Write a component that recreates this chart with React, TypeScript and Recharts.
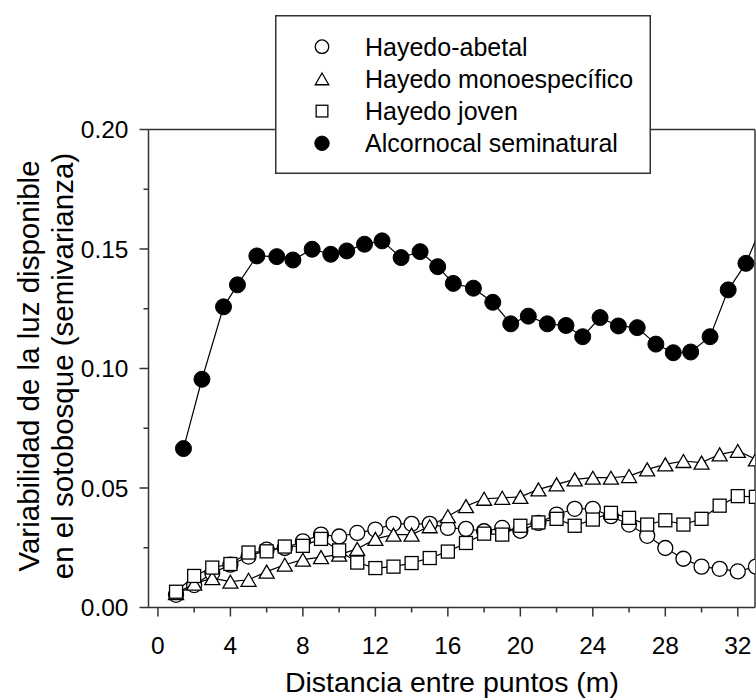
import { ComposedChart, Line, XAxis, YAxis, ReferenceLine, Legend } from 'recharts'

// distance lags (m) for the three beech stands
const DIST = [1, 2, 3, 4, 5, 6, 7, 8, 9, 10, 11, 12, 13, 14, 15, 16, 17, 18, 19, 20, 21, 22, 23, 24, 25, 26, 27, 28, 29, 30, 31, 32, 33]

const HAYEDO_ABETAL = [0.0053, 0.0094, 0.0144, 0.0179, 0.0213, 0.0242, 0.0249, 0.0277, 0.0305, 0.0297, 0.0312, 0.0326, 0.0350, 0.0350, 0.0350, 0.0333, 0.0329, 0.0319, 0.0333, 0.0321, 0.0354, 0.0389, 0.0413, 0.0413, 0.0382, 0.0347, 0.0300, 0.0249, 0.0204, 0.0171, 0.0162, 0.0151, 0.0171]
const HAYEDO_MONO = [0.0060, 0.0100, 0.0123, 0.0108, 0.0116, 0.0150, 0.0179, 0.0200, 0.0211, 0.0221, 0.0245, 0.0287, 0.0305, 0.0305, 0.0340, 0.0382, 0.0424, 0.0455, 0.0459, 0.0463, 0.0494, 0.0515, 0.0536, 0.0543, 0.0543, 0.0550, 0.0578, 0.0599, 0.0613, 0.0606, 0.0641, 0.0655, 0.0620]
const HAYEDO_JOVEN = [0.0066, 0.0132, 0.0167, 0.0182, 0.0230, 0.0235, 0.0255, 0.0258, 0.0287, 0.0239, 0.0188, 0.0165, 0.0171, 0.0186, 0.0207, 0.0234, 0.0270, 0.0309, 0.0305, 0.0342, 0.0356, 0.0371, 0.0342, 0.0368, 0.0396, 0.0375, 0.0347, 0.0365, 0.0347, 0.0371, 0.0426, 0.0466, 0.0463]

// cork oak stand has its own (non-integer) lags
const ALCORNOCAL_X = [1.41, 2.43, 3.62, 4.39, 5.46, 6.56, 7.45, 8.51, 9.54, 10.42, 11.40, 12.37, 13.42, 14.47, 15.44, 16.30, 17.41, 18.48, 19.47, 20.44, 21.49, 22.52, 23.44, 24.40, 25.41, 26.45, 27.48, 28.44, 29.40, 30.47, 31.47, 32.45, 33.45]
const ALCORNOCAL_Y = [0.0665, 0.0955, 0.1258, 0.1350, 0.1471, 0.1468, 0.1454, 0.1499, 0.1478, 0.1492, 0.1520, 0.1534, 0.1464, 0.1489, 0.1426, 0.1356, 0.1336, 0.1277, 0.1187, 0.1219, 0.1187, 0.1180, 0.1133, 0.1213, 0.1178, 0.1171, 0.1102, 0.1066, 0.1069, 0.1133, 0.1329, 0.1440, 0.1620]

const X_TICKS = [0, 2, 4, 6, 8, 10, 12, 14, 16, 18, 20, 22, 24, 26, 28, 30, 32]
const Y_TICKS = [0, 0.025, 0.05, 0.075, 0.1, 0.125, 0.15, 0.175, 0.2]

const SERIES_NAMES = ['Hayedo-abetal', 'Hayedo monoespecífico', 'Hayedo joven', 'Alcornocal seminatural']

const FONT = '"Liberation Sans", Arial, sans-serif'
const AXIS_COLOR = '#333'
const X_DOMAIN: [number, number] = [-0.52, 32.95]

const zip = (xs: number[], ys: number[]) => xs.map((x, i) => ({ x, y: ys[i] }))

type Shape = 'circle' | 'triangle' | 'square' | 'dot'

function Marker({ cx, cy, shape, s = 1 }: { cx: number; cy: number; shape: Shape; s?: number }) {
  const common = { stroke: '#000', strokeWidth: 1.3, fill: '#fff' }
  if (shape === 'circle') return <circle cx={cx} cy={cy} r={7.5 * s} {...common} />
  if (shape === 'dot') return <circle cx={cx} cy={cy} r={8 * s} fill="#000" stroke="#000" />
  if (shape === 'square') {
    const h = 6.5 * s
    return <rect x={cx - h} y={cy - h} width={2 * h} height={2 * h} {...common} />
  }
  const w = 7.5 * s
  const h = 6.5 * s
  return <polygon points={`${cx},${cy - h} ${cx - w},${cy + h} ${cx + w},${cy + h}`} {...common} />
}

const dotFor = (shape: Shape) => (p: any) => (
  <Marker key={`${shape}-${p.index}`} cx={p.cx} cy={p.cy} shape={shape} />
)

function YTick({ x, y, payload }: any) {
  const v = payload.value
  const major = Math.abs(v / 0.05 - Math.round(v / 0.05)) < 1e-6
  return (
    <g>
      <line x1={x - (major ? 9 : 5)} x2={x} y1={y} y2={y} stroke={AXIS_COLOR} strokeWidth={1.5} />
      {major && (
        <text x={x - 20} y={y + 8.5} textAnchor="end" fontFamily={FONT} fontSize={24.5} fill="#000">
          {v.toFixed(2)}
        </text>
      )}
    </g>
  )
}

function XTick({ x, y, payload }: any) {
  const v = payload.value
  const major = v % 4 === 0
  return (
    <g>
      <line x1={x} x2={x} y1={y} y2={y + (major ? 9 : 5)} stroke={AXIS_COLOR} strokeWidth={1.5} />
      {major && (
        <text x={x} y={y + 46.5} textAnchor="middle" fontFamily={FONT} fontSize={24.5} fill="#000">
          {v}
        </text>
      )}
    </g>
  )
}

const XTitle = () => (
  <text x={452} y={691.5} textAnchor="middle" fontFamily={FONT} fontSize={28.5} fill="#000">
    Distancia entre puntos (m)
  </text>
)

const YTitle = () => (
  <g fontFamily={FONT} fontSize={29.5} fill="#000" textAnchor="middle">
    <text transform="translate(39,366) rotate(-90)">Variabilidad de la luz disponible</text>
    <text transform="translate(73,366) rotate(-90)">en el sotobosque (semivarianza)</text>
  </g>
)

function LegendBox() {
  const shapes: Shape[] = ['circle', 'triangle', 'square', 'dot']
  return (
    <svg width={376} height={159} style={{ display: 'block' }}>
      <rect x={0.75} y={0.75} width={374.5} height={157.5} fill="#fff" stroke={AXIS_COLOR} strokeWidth={1.5} />
      {SERIES_NAMES.map((name, i) => (
        <g key={name}>
          <Marker cx={47} cy={31.7 + i * 32.2} shape={shapes[i]} s={0.9} />
          <text x={90} y={40.5 + i * 32.2} fontFamily={FONT} fontSize={25} fill="#000">{name}</text>
        </g>
      ))}
    </svg>
  )
}

export default function App() {
  const abetal = zip(DIST, HAYEDO_ABETAL)
  const mono = zip(DIST, HAYEDO_MONO)
  const joven = zip(DIST, HAYEDO_JOVEN)
  const alcornocal = zip(ALCORNOCAL_X, ALCORNOCAL_Y)

  return (
    <div style={{ position: 'absolute', left: 0, top: 0, width: 756, height: 699, background: '#fff' }}>
      <ComposedChart width={756} height={699} margin={{ top: 129.5, right: 1, left: 48.5, bottom: 31.5 }}>
        <XAxis
          type="number" dataKey="x" domain={X_DOMAIN} allowDataOverflow
          ticks={X_TICKS} interval={0} tick={<XTick />} tickLine={false} tickSize={0} tickMargin={0}
          axisLine={{ stroke: AXIS_COLOR, strokeWidth: 1.5 }} height={60}
          label={{ content: XTitle }}
        />
        <YAxis
          type="number" domain={[0, 0.2]} allowDataOverflow
          ticks={Y_TICKS} interval={0} tick={<YTick />} tickLine={false} tickSize={0} tickMargin={0}
          axisLine={{ stroke: AXIS_COLOR, strokeWidth: 1.5 }} width={100}
          label={{ content: YTitle }}
        />
        <ReferenceLine y={0.2} stroke={AXIS_COLOR} strokeWidth={1.5} />
        <ReferenceLine x={X_DOMAIN[1]} stroke={AXIS_COLOR} strokeWidth={1.5} />
        <Line data={abetal} dataKey="y" name={SERIES_NAMES[0]} stroke="#000" strokeWidth={1.2} dot={dotFor('circle')} isAnimationActive={false} />
        <Line data={mono} dataKey="y" name={SERIES_NAMES[1]} stroke="#000" strokeWidth={1.2} dot={dotFor('triangle')} isAnimationActive={false} />
        <Line data={joven} dataKey="y" name={SERIES_NAMES[2]} stroke="#000" strokeWidth={1.2} dot={dotFor('square')} isAnimationActive={false} />
        <Line data={alcornocal} dataKey="y" name={SERIES_NAMES[3]} stroke="#000" strokeWidth={1.2} dot={dotFor('dot')} isAnimationActive={false} />
        <Legend
          layout="vertical" align="center" verticalAlign="middle"
          wrapperStyle={{ left: 275, top: 15, width: 376, height: 159 }}
          content={() => <LegendBox />}
        />
      </ComposedChart>
    </div>
  )
}
